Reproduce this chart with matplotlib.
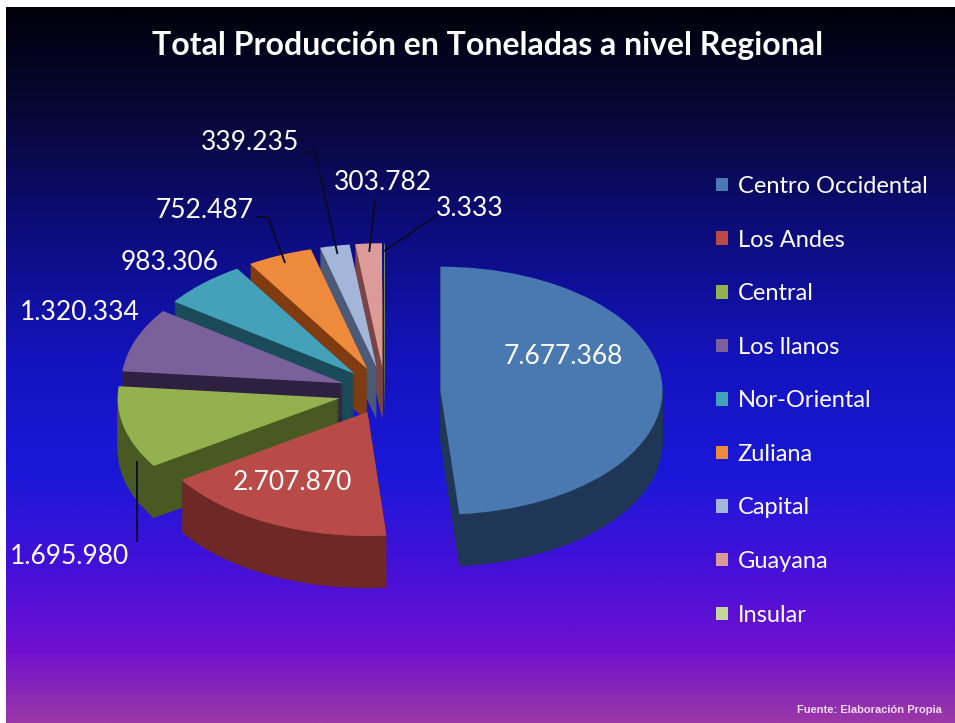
import numpy as np
import matplotlib.pyplot as plt
from matplotlib.colors import LinearSegmentedColormap
from matplotlib.lines import Line2D

# datos
regiones = ['Centro Occidental', 'Los Andes', 'Central', 'Los llanos', 'Nor-Oriental',
            'Zuliana', 'Capital', 'Guayana', 'Insular']
toneladas = [7677368, 2707870, 1695980, 1320334, 983306, 752487, 339235, 303782, 3333]
etiquetas = [f'{v:,}'.replace(',', '.') for v in toneladas]

# colores (cara superior y lateral)
col_top = ['#4a79b2', '#b84b47', '#93b24f', '#7a619c', '#43a2ba', '#ee8a3c',
           '#a3b6da', '#dc9a98', '#c3d69b']
col_side = ['#1f3656', '#6e2826', '#485a22', '#2e2040', '#1b4b58', '#803c10',
            '#4a5a78', '#7a4444', '#6a7a4a']
explode = [0.25, 0.18, 0.21, 0.2, 0.2, 0.2, 0.2, 0.2, 0.2]

W, H = 955, 723
fig = plt.figure(figsize=(W / 100, H / 100), dpi=100)
fig.patch.set_facecolor('white')

# fondo degradado
bg = fig.add_axes([6 / W, 0, (W - 6) / W, (H - 7) / H])
cmap = LinearSegmentedColormap.from_list('fondo', [
    (0.0, '#00000a'), (0.15, '#080838'), (0.3, '#0c0c78'), (0.5, '#1414c0'),
    (0.65, '#1a18d8'), (0.8, '#4a10d8'), (0.9, '#7010d0'), (1.0, '#9a38a8')])
grad = np.linspace(0, 1, 400).reshape(-1, 1)
bg.imshow(grad, aspect='auto', cmap=cmap, extent=[0, 1, 0, 1])
bg.axis('off')

# pastel 3D: capas apiladas
CX, CY, RX, RY = 385, 392, 222, 124
XL, YL = 1.6, 2.6
ax = fig.add_axes([(CX - XL * RX) / W, (H - CY - YL * RY) / H, 2 * XL * RX / W, 2 * YL * RY / H])
ax.set_facecolor('none')
depth = 0.42
for d in np.linspace(depth, 0.005, 45):
    ax.pie(toneladas, explode=explode, colors=col_side, startangle=90, counterclock=False,
           center=(0, -d), wedgeprops=dict(linewidth=0), frame=False)
wedges, _ = ax.pie(toneladas, explode=explode, colors=col_top, startangle=90, counterclock=False,
                   wedgeprops=dict(linewidth=0), frame=False)
ax.set_aspect('auto')
ax.set_xlim(-XL, XL)
ax.set_ylim(-YL, YL)
ax.axis('off')

# etiquetas de valores (posiciones en pixeles desde arriba-izquierda)
pos_lab = [(563, 357), (292, 483), (70, 557), (80, 313), (170, 262),
           (205, 210), (250, 143), (383, 183), (470, 208)]
# inicio de la linea guia y codo horizontal
guia = {2: ((None, 541), 0), 5: ((258, 217), 10), 6: ((303, 152), 12),
        7: ((375, 200), 0), 8: ((437, 215), 0)}
frac = np.cumsum([0] + toneladas) / sum(toneladas)
to_fig = fig.transFigure.inverted()
for i, (lab, (px, py)) in enumerate(zip(etiquetas, pos_lab)):
    fig.text(px / W, 1 - py / H, lab, ha='center', va='center', color='white',
             fontsize=19, family='Lato')
    if i not in guia:
        continue
    mid = np.deg2rad(90 - 180 * (frac[i] + frac[i + 1]))
    r = 1 + explode[i] - 0.06
    tip = (r * np.cos(mid), r * np.sin(mid))
    if i == 2:
        tip = (tip[0], tip[1] - depth * 0.7)
    tx, ty = ax.transData.transform(tip)
    (sx, sy), codo = guia[i]
    sy = H - sy
    if sx is None:
        sx = tx
    xs = [sx, sx + codo, tx] if codo else [sx, tx]
    ys = [sy, sy, ty] if codo else [sy, ty]
    pts = to_fig.transform(np.column_stack([xs, ys]))
    fig.add_artist(Line2D(pts[:, 0], pts[:, 1], color='#0a0a20', lw=1.3))

# titulo
fig.text(488 / W, 1 - 45 / H, 'Total Producción en Toneladas a nivel Regional', ha='center', va='center',
         color='white', fontsize=23, weight='bold', family='Lato')

# leyenda
leg = fig.legend(wedges, regiones, loc='upper left', bbox_to_anchor=(716 / W, 1 - 176 / H),
                 frameon=False, fontsize=17, handlelength=0.5, handleheight=0.5,
                 handletextpad=0.42, labelspacing=1.38, borderaxespad=0, borderpad=0)
for t in leg.get_texts():
    t.set_color('white')
    t.set_family('Lato')

fig.text(942 / W, 1 - 710 / H, 'Fuente: Elaboración Propia', ha='right', va='center',
         color='#f4dcf4', fontsize=8, weight='bold', family='Liberation Sans')

fig.savefig('out.png', dpi=100)
